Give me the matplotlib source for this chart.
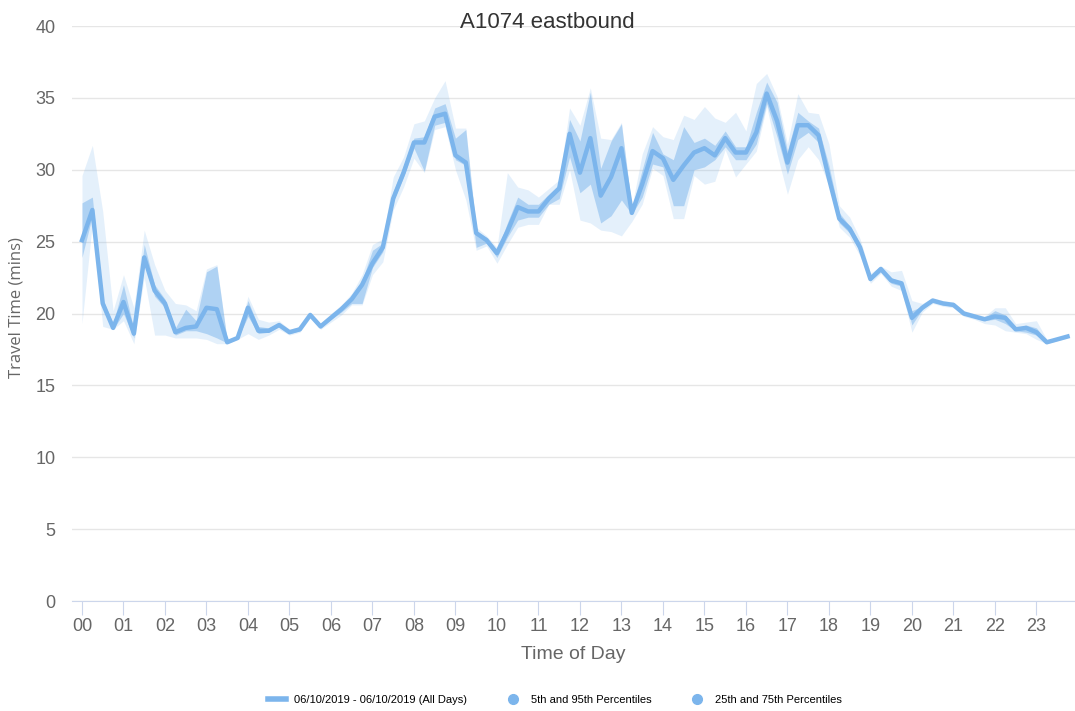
import matplotlib.pyplot as plt
from matplotlib.lines import Line2D
import numpy as np

# 15-minute slots across the day (hours)
slots = np.arange(96) * 0.25
hour_labels = [f"{h:02d}" for h in range(24)]

mean_time = [25.1, 27.2, 20.7, 19.0, 20.8, 18.6, 23.9, 21.6, 20.7, 18.7,
             19.0, 19.1, 20.4, 20.3, 18.0, 18.3, 20.4, 18.8, 18.8, 19.2,
             18.7, 18.9, 19.9, 19.1, 19.7, 20.3, 21.0, 22.0, 23.5, 24.6,
             28.0, 29.8, 31.9, 31.9, 33.7, 33.9, 31.0, 30.5, 25.6, 25.1,
             24.2, 25.7, 27.4, 27.1, 27.1, 28.0, 28.7, 32.5, 29.8, 32.2,
             28.2, 29.5, 31.5, 27.0, 29.0, 31.3, 30.8, 29.3, 30.3, 31.2,
             31.5, 31.0, 32.2, 31.2, 31.2, 32.6, 35.3, 33.4, 30.5, 33.1,
             33.1, 32.4, 29.4, 26.6, 25.9, 24.6, 22.4, 23.1, 22.3, 22.1,
             19.7, 20.4, 20.9, 20.7, 20.6, 20.0, 19.8, 19.6, 19.8, 19.7,
             18.9, 19.0, 18.7, 18.0, 18.2, 18.4]

p5 = [19.3, 26.3, 19.1, 18.9, 19.5, 17.9, 22.5, 18.5, 18.5, 18.3,
      18.3, 18.3, 18.2, 17.9, 17.9, 18.2, 18.6, 18.2, 18.5, 18.9,
      18.5, 18.7, 19.7, 18.9, 19.4, 19.9, 20.6, 20.6, 22.7, 23.6,
      27.2, 28.8, 30.8, 29.8, 32.8, 33.0, 30.0, 27.9, 24.4, 24.7,
      23.5, 24.8, 26.0, 26.2, 26.2, 27.6, 27.6, 30.0, 26.5, 26.3,
      25.8, 25.7, 25.4, 26.4, 27.6, 30.1, 29.6, 26.6, 26.6, 29.6,
      29.0, 29.2, 31.4, 29.5, 30.4, 31.3, 34.4, 31.1, 28.3, 30.7,
      31.6, 30.7, 28.9, 26.0, 25.3, 24.0, 22.1, 22.8, 21.9, 21.6,
      18.7, 20.1, 20.7, 20.5, 20.4, 19.8, 19.6, 19.3, 19.2, 18.8,
      18.7, 18.6, 18.2, 17.9, 18.1, 18.3]

p25 = [23.9, 26.8, 20.4, 18.9, 20.0, 18.3, 23.5, 21.2, 20.4, 18.5,
       18.8, 18.8, 18.6, 18.3, 17.95, 18.25, 19.8, 18.6, 18.7, 19.1,
       18.6, 18.8, 19.8, 19.0, 19.6, 20.1, 20.7, 20.7, 23.2, 24.3,
       27.8, 29.5, 31.5, 29.9, 33.1, 33.3, 30.7, 30.3, 24.6, 24.9,
       23.9, 25.3, 26.5, 26.7, 26.7, 27.6, 28.0, 30.9, 28.4, 29.0,
       26.3, 26.8, 27.9, 26.9, 28.1, 30.4, 30.2, 27.5, 27.5, 30.0,
       30.2, 30.7, 31.6, 30.7, 30.7, 31.8, 34.6, 32.3, 29.7, 32.1,
       32.6, 31.9, 29.1, 26.3, 25.6, 24.3, 22.3, 22.9, 22.1, 21.9,
       19.2, 20.3, 20.8, 20.6, 20.5, 19.9, 19.7, 19.5, 19.6, 19.3,
       18.8, 18.7, 18.5, 17.95, 18.15, 18.35]

p75 = [27.7, 28.1, 21.0, 19.3, 22.0, 18.9, 24.8, 22.0, 21.0, 19.0,
       20.3, 19.5, 22.9, 23.3, 18.1, 18.4, 20.9, 19.1, 19.0, 19.3,
       18.8, 19.0, 20.0, 19.2, 19.8, 20.4, 21.2, 22.3, 24.4, 24.9,
       28.5, 30.3, 32.2, 32.3, 34.3, 34.6, 32.2, 32.8, 25.7, 25.3,
       24.4, 26.3, 28.1, 27.6, 27.6, 28.3, 29.0, 33.5, 32.0, 35.4,
       30.1, 32.0, 33.2, 27.3, 30.0, 32.6, 31.1, 30.7, 33.0, 31.9,
       32.2, 31.7, 32.7, 31.6, 31.6, 34.0, 36.1, 34.7, 31.3, 34.0,
       33.4, 32.9, 30.3, 27.0, 26.1, 24.9, 22.6, 23.2, 22.5, 22.2,
       20.2, 20.5, 21.0, 20.8, 20.7, 20.1, 19.9, 19.7, 20.2, 19.9,
       19.0, 19.2, 19.0, 18.1, 18.25, 18.45]

p95 = [29.6, 31.7, 27.1, 20.2, 22.7, 20.4, 25.8, 23.4, 21.6, 20.7,
       20.6, 20.2, 23.1, 23.4, 18.1, 18.4, 21.2, 19.6, 19.4, 19.5,
       18.9, 19.1, 20.1, 19.3, 20.0, 20.6, 21.4, 22.7, 24.8, 25.2,
       29.5, 30.9, 33.2, 33.4, 35.0, 36.2, 32.9, 32.9, 26.0, 25.4,
       24.6, 29.8, 28.8, 28.6, 28.1, 28.7, 29.3, 34.3, 33.1, 35.7,
       32.2, 32.1, 33.3, 27.4, 31.1, 33.0, 32.3, 32.1, 33.8, 33.5,
       34.4, 33.6, 33.3, 34.0, 32.7, 36.0, 36.7, 35.1, 31.8, 35.3,
       34.0, 33.9, 31.8, 27.5, 26.7, 25.2, 22.8, 23.3, 22.9, 23.0,
       20.9, 20.7, 21.1, 20.9, 20.8, 20.2, 20.0, 19.8, 20.4, 20.4,
       19.3, 19.4, 19.5, 18.2, 18.3, 18.5]

blue = "#7cb5ec"
narrow = ["Liberation Sans", "DejaVu Sans"]

fig = plt.figure(figsize=(10.75, 7.11), dpi=100)
ax = fig.add_axes([0.067, 0.1547, 0.933, 0.8087])

ax.fill_between(slots, p5, p95, color=blue, alpha=0.2, lw=0)
ax.fill_between(slots, p25, p75, color=blue, alpha=0.5, lw=0)
ax.plot(slots, mean_time, color=blue, lw=3.2, solid_joinstyle="round")

ax.set_ylim(0, 40)
ax.set_xlim(-0.24, 23.93)
ax.set_yticks(range(0, 41, 5))
ax.set_xticks(range(24))
ax.set_xticklabels(hour_labels)
ax.grid(axis="y", color="#e6e6e6", lw=1)
ax.set_axisbelow(True)

for side in ["top", "right", "left"]:
    ax.spines[side].set_visible(False)
ax.spines["bottom"].set_color("#ccd6eb")
ax.tick_params(axis="y", length=0, pad=12, labelsize=13, labelcolor="#666666")
ax.tick_params(axis="x", length=10, color="#ccd6eb", labelsize=13,
               labelcolor="#666666", pad=2)
for lbl in ax.get_xticklabels() + ax.get_yticklabels():
    lbl.set_family(narrow)

ax.set_xlabel("Time of Day", fontsize=14, color="#666666", family=narrow,
              labelpad=8)
ax.set_ylabel("Travel Time (mins)", fontsize=12, color="#666666",
              family=["Open Sans", "DejaVu Sans"])
ax.yaxis.set_label_coords(-0.047, 0.51)
fig.text(0.509, 0.968, "A1074 eastbound", ha="center", va="center",
         fontsize=16, color="#333333", family=narrow)

handles = [
    Line2D([], [], color=blue, lw=4),
    Line2D([], [], color=blue, marker="o", ls="none", markersize=7),
    Line2D([], [], color=blue, marker="o", ls="none", markersize=7),
]
labels = ["06/10/2019 - 06/10/2019 (All Days)", "5th and 95th Percentiles",
          "25th and 75th Percentiles"]
fig.legend(handles, labels, loc="center", bbox_to_anchor=(0.516, 0.015),
           ncol=3, frameon=False, prop={"family": narrow, "size": 8},
           handlelength=1.6, columnspacing=3.3, handletextpad=0.8)

plt.savefig("out.png", dpi=100)
